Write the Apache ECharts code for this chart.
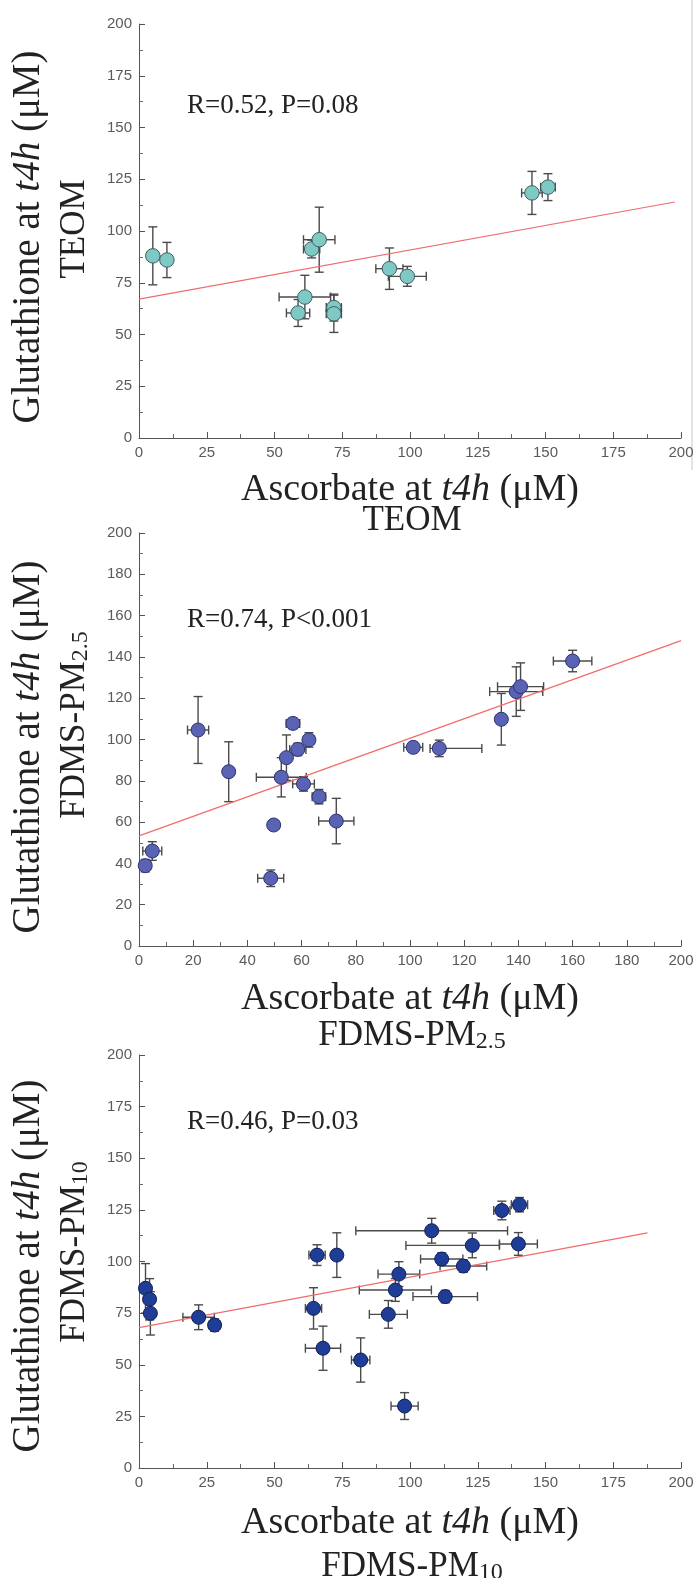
<!DOCTYPE html>
<html>
<head>
<meta charset="utf-8">
<title>Glutathione vs Ascorbate</title>
<script src="https://cdn.jsdelivr.net/npm/echarts@6/dist/echarts.min.js"></script>
<style>
html, body { margin: 0; padding: 0; background: #fff; }
#chart { width: 698px; height: 1578px; }
</style>
</head>
<body>
<div id="chart"></div>
<script>
// TEOM panel
var teomX = [5.1, 10.3, 63.7, 66.5, 61.2, 58.7, 71.9, 71.9, 92.4, 99.0, 145.0, 150.9];
var teomY = [88.0, 86.0, 91.3, 95.8, 68.1, 60.4, 63.0, 60.0, 81.8, 78.1, 118.4, 121.2];
var teomXErr = [2, 2, 3, 5.8, 9.5, 4.3, 2.8, 2.8, 5, 7, 3.8, 2.7];
var teomYErr = [14, 8.5, 4.3, 15.7, 10.5, 6.5, 6.5, 9, 10, 4.8, 10.4, 6.5];
var teomFitX = [0, 197.7];
var teomFitY = [67.1, 114.0];

// FDMS-PM2.5 panel
var pm25X = [2.3, 4.9, 21.8, 33.1, 48.6, 49.7, 52.5, 54.4, 56.8, 58.6, 62.7, 60.7, 66.4, 72.8,
    101.2, 110.8, 133.7, 139.2, 140.8, 160.0];
var pm25Y = [38.9, 46.0, 104.6, 84.4, 32.8, 58.6, 81.7, 91.2, 107.8, 95.2, 99.8, 78.5, 72.3, 60.5,
    96.2, 95.7, 109.8, 123.2, 125.6, 138.0];
var pm25XErr = [2, 3.5, 3.9, 0, 4.8, 1.8, 9.2, 1.5, 2.5, 3, 2, 4, 2.5, 6.5,
    3.5, [3.4, 15.7], 1.5, 9.8, 8.5, 7.1];
var pm25YErr = [3, 4.5, 16.2, 14.5, 4, 2.5, 9.5, 11, 2.5, 3, 3.5, 3.5, 3.5, 11,
    2.5, 4, 12.5, 12, 11.5, 5.2];
var pm25FitX = [0, 200];
var pm25FitY = [53.3, 147.9];

// FDMS-PM10 panel
var pm10X = [2.4, 3.9, 4.2, 22.0, 27.9, 65.7, 73.0, 64.4, 67.9, 81.8, 98.0, 92.0, 94.6, 95.9,
    108.0, 111.7, 113.0, 119.7, 123.0, 140.0, 133.9, 140.4];
var pm10Y = [87.0, 81.7, 74.9, 73.0, 69.2, 103.1, 103.1, 77.3, 58.0, 52.3, 30.0, 74.4, 86.2, 93.9,
    114.9, 101.2, 83.0, 97.8, 107.8, 108.5, 124.7, 127.5];
var pm10XErr = [1.5, 1.5, 1.5, 5.8, 2, 3, 1.5, 3, 6.5, 3.4, 5, 7, 13.3, 7.7,
    28, 7.8, 11.9, 8.6, [24.5, 10], 7, 3, 3];
var pm10YErr = [12, 10, 10.5, 6, 3, 5, 10.8, 10, 10.7, 10.7, 6.5, 6.7, 5.5, 6,
    6, 3, 3, 3, 6, 5.5, 4.5, 3.5];
var pm10FitX = [0, 187.6];
var pm10FitY = [68.0, 113.9];

// annotations and titles
var statLabels = ['R=0.52, P=0.08', 'R=0.74, P<0.001', 'R=0.46, P=0.03'];
var siteNames = ['TEOM', 'FDMS-PM{s|2.5}', 'FDMS-PM{s|10}'];
var tickSteps = [25, 20, 25];

var SERIF = '"Liberation Serif", "Times New Roman", serif';
var SANS = '"Liberation Sans", Arial, sans-serif';

var chart_page = {
    chart: null,
    panels: null,
    /**
     * init
     */
    init: function() {
        this.chart = echarts.init(document.getElementById('chart'), null, { renderer: 'canvas' });
        this.panels = [
            { x: teomX, y: teomY, xe: teomXErr, ye: teomYErr, fx: teomFitX, fy: teomFitY,
                top: 24, height: 414, fill: '#7fc9c5', border: '#3e5e60', size: 14.5,
                statY: 106, xt1: 490, xt2: 521, yt1: 237, yt2: 229 },
            { x: pm25X, y: pm25Y, xe: pm25XErr, ye: pm25YErr, fx: pm25FitX, fy: pm25FitY,
                top: 533, height: 413, fill: '#5a63b3', border: '#2c3370', size: 14,
                statY: 620, xt1: 999, xt2: 1036, yt1: 747, yt2: 725 },
            { x: pm10X, y: pm10Y, xe: pm10XErr, ye: pm10YErr, fx: pm10FitX, fy: pm10FitY,
                top: 1055, height: 413, fill: '#1f3c96', border: '#0f1f5a', size: 14,
                statY: 1122, xt1: 1523, xt2: 1567, yt1: 1266, yt2: 1252 }
        ];
        this.chart.setOption(this.buildOption());
    },
    errPair: function(e) {
        return typeof e === 'number' ? [e, e] : e;
    },
    axisBase: function(idx, step) {
        return {
            gridIndex: idx,
            type: 'value',
            min: 0,
            max: 200,
            interval: step,
            splitLine: { show: false },
            axisLine: { show: true, lineStyle: { color: '#555', width: 1 } },
            axisTick: { show: true, inside: true, length: 6, lineStyle: { color: '#555' } },
            minorTick: { show: true, splitNumber: 2, length: 4, lineStyle: { color: '#666' } },
            axisLabel: { color: '#5a5a5a', fontSize: 15, fontFamily: SANS, margin: 7 }
        };
    },
    renderErr: function(params, api) {
        var x = api.value(0), y = api.value(1);
        var xm = api.value(2), xp = api.value(3), ym = api.value(4), yp = api.value(5);
        var cap = 4.5;
        var style = { stroke: '#4a4a4a', lineWidth: 1.4 };
        var kids = [];
        if (xm + xp > 0) {
            var l = api.coord([x - xm, y]), r = api.coord([x + xp, y]);
            kids.push({ type: 'line', shape: { x1: l[0], y1: l[1], x2: r[0], y2: r[1] }, style: style });
            kids.push({ type: 'line', shape: { x1: l[0], y1: l[1] - cap, x2: l[0], y2: l[1] + cap }, style: style });
            kids.push({ type: 'line', shape: { x1: r[0], y1: r[1] - cap, x2: r[0], y2: r[1] + cap }, style: style });
        }
        if (ym + yp > 0) {
            var b = api.coord([x, y - ym]), t = api.coord([x, y + yp]);
            kids.push({ type: 'line', shape: { x1: b[0], y1: b[1], x2: t[0], y2: t[1] }, style: style });
            kids.push({ type: 'line', shape: { x1: b[0] - cap, y1: b[1], x2: b[0] + cap, y2: b[1] }, style: style });
            kids.push({ type: 'line', shape: { x1: t[0] - cap, y1: t[1], x2: t[0] + cap, y2: t[1] }, style: style });
        }
        return { type: 'group', children: kids };
    },
    buildOption: function() {
        var self = this;
        var grids = [], xAxes = [], yAxes = [], series = [], graphics = [];
        var left = 139, right = 17;
        var plotCenterX = left + (698 - left - right) / 2;

        for (var i = 0; i < this.panels.length; i++) {
            var p = this.panels[i];
            grids.push({ left: left, right: right, top: p.top, height: p.height });
            xAxes.push(this.axisBase(i, tickSteps[i]));
            yAxes.push(this.axisBase(i, tickSteps[i]));

            var pts = [], errs = [], fit = [];
            for (var k = 0; k < p.x.length; k++) {
                var xe = this.errPair(p.xe[k]), ye = this.errPair(p.ye[k]);
                pts.push([p.x[k], p.y[k]]);
                errs.push([p.x[k], p.y[k], xe[0], xe[1], ye[0], ye[1]]);
            }
            for (var f = 0; f < p.fx.length; f++) {
                fit.push([p.fx[f], p.fy[f]]);
            }

            series.push({
                type: 'custom', xAxisIndex: i, yAxisIndex: i, z: 2, silent: true,
                encode: { x: 0, y: 1 },
                renderItem: function(params, api) { return self.renderErr(params, api); },
                data: errs
            });
            series.push({
                type: 'line', xAxisIndex: i, yAxisIndex: i, z: 3, silent: true,
                showSymbol: false, symbol: 'none',
                lineStyle: { color: '#f26b6b', width: 1.2 },
                data: fit
            });
            series.push({
                type: 'scatter', xAxisIndex: i, yAxisIndex: i, z: 4,
                symbol: 'circle', symbolSize: p.size,
                itemStyle: { color: p.fill, borderColor: p.border, borderWidth: 1, opacity: 1 },
                data: pts
            });

            // R / P annotation
            graphics.push({
                type: 'text', left: 187, top: p.statY - 14,
                style: { text: statLabels[i], fontSize: 27, fontFamily: SERIF, fill: '#222' }
            });
            // x title, two lines
            graphics.push({
                type: 'text', x: plotCenterX, y: p.xt1,
                style: {
                    text: 'Ascorbate at {i|t4h} (μM)', fontSize: 38, fontFamily: SERIF, fill: '#222',
                    align: 'center', verticalAlign: 'middle',
                    rich: { i: { fontSize: 38, fontFamily: SERIF, fontStyle: 'italic', fill: '#222' } }
                }
            });
            graphics.push({
                type: 'text', x: plotCenterX + 2, y: p.xt2,
                style: {
                    text: siteNames[i], fontSize: 35, fontFamily: SERIF, fill: '#222',
                    align: 'center', verticalAlign: 'middle',
                    rich: { s: { fontSize: 24, fontFamily: SERIF, fill: '#222', verticalAlign: 'bottom' } }
                }
            });
            // y title, rotated, two lines
            graphics.push({
                type: 'text', x: 29, y: p.yt1, rotation: Math.PI / 2,
                style: {
                    text: 'Glutathione at {i|t4h} (μM)', fontSize: 39, fontFamily: SERIF, fill: '#222',
                    align: 'center', verticalAlign: 'middle',
                    rich: { i: { fontSize: 39, fontFamily: SERIF, fontStyle: 'italic', fill: '#222' } }
                }
            });
            graphics.push({
                type: 'text', x: 75, y: p.yt2, rotation: Math.PI / 2,
                style: {
                    text: siteNames[i], fontSize: 35, fontFamily: SERIF, fill: '#222',
                    align: 'center', verticalAlign: 'middle',
                    rich: { s: { fontSize: 24, fontFamily: SERIF, fill: '#222', verticalAlign: 'bottom' } }
                }
            });
        }

        // faint scan border at the right of the top panel
        graphics.push({
            type: 'line', silent: true,
            shape: { x1: 692, y1: 0, x2: 692, y2: 470 },
            style: { stroke: '#c8c8c8', lineWidth: 1 }
        });

        return {
            animation: false,
            backgroundColor: '#fff',
            grid: grids,
            xAxis: xAxes,
            yAxis: yAxes,
            series: series,
            graphic: graphics
        };
    }
};

chart_page.init();
</script>
</body>
</html>
